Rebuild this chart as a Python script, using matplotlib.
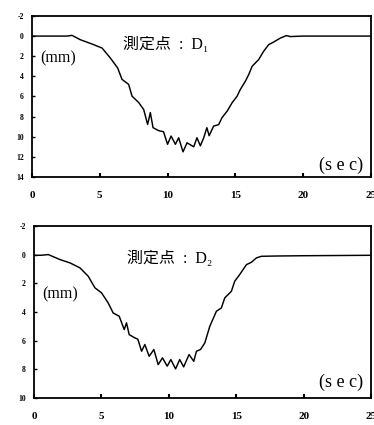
import matplotlib.pyplot as plt

# measurement point D1 (time in sec, settlement in mm, downward positive)
t1 = [0, 1, 2, 2.6, 2.95, 3.56, 4.43, 5.17, 5.78, 6.32, 6.64, 7.13, 7.38, 7.87, 8.24,
      8.53, 8.73, 8.93, 9.35, 9.7, 10.0, 10.26, 10.58, 10.82, 11.14, 11.44, 11.93,
      12.17, 12.42, 12.67, 12.9, 13.07, 13.4, 13.77, 14.02, 14.4, 14.76, 15.13, 15.37,
      15.74, 15.99, 16.24, 16.72, 17.09, 17.46, 17.83, 18.32, 18.77, 19.05, 20, 22, 25]
d1 = [0, 0, 0, 0, -0.07, 0.36, 0.79, 1.19, 2.18, 3.17, 4.3, 4.8, 5.97, 6.6, 7.3,
      8.78, 7.6, 9.1, 9.4, 9.5, 10.75, 9.93, 10.75, 10.1, 11.5, 10.6, 11.0,
      10.1, 10.9, 10.1, 9.1, 9.9, 8.94, 8.8, 8.1, 7.45, 6.63, 5.97, 5.3,
      4.49, 3.82, 3.0, 2.34, 1.51, 0.85, 0.59, 0.2, -0.05, 0.05, 0, 0, 0]

# measurement point D2
t2 = [0, 0.5, 1.06, 1.93, 2.67, 3.41, 4.02, 4.52, 5.01, 5.5, 5.87, 6.32, 6.69, 6.86,
      7.06, 7.48, 7.7, 7.98, 8.22, 8.54, 8.89, 9.21, 9.53, 9.88, 10.15, 10.5, 10.81,
      11.1, 11.5, 11.85, 12.05, 12.35, 12.67, 13.04, 13.53, 13.9, 14.15, 14.64, 14.89,
      15.26, 15.76, 16.12, 16.5, 16.87, 18, 20, 25]
d2 = [0.05, 0.05, 0, 0.35, 0.58, 0.93, 1.51, 2.32, 2.67, 3.37, 4.07, 4.3, 5.23, 4.76,
      5.58, 5.81, 5.9, 6.74, 6.27, 7.09, 6.62, 7.67, 7.2, 7.78, 7.32, 7.97, 7.32,
      7.83, 6.97, 7.44, 6.74, 6.62, 6.16, 5.0, 3.95, 3.72, 3.02, 2.56, 1.86,
      1.39, 0.7, 0.54, 0.23, 0.12, 0.1, 0.08, 0.05]

x_ticks = [0, 5, 10, 15, 20, 25]
y_ticks1 = [-2, 0, 2, 4, 6, 8, 10, 12, 14]
y_ticks2 = [-2, 0, 2, 4, 6, 8, 10]

serif = ['Liberation Serif', 'DejaVu Serif']
cjk = ['Liberation Serif', 'Noto Sans CJK JP', 'DejaVu Serif']

fig = plt.figure(figsize=(3.74, 4.25), dpi=100)
ax1 = fig.add_axes([0.0856, 0.5835, 0.906, 0.379])
ax2 = fig.add_axes([0.091, 0.0635, 0.901, 0.405])

# ax, time, depth, yticks, title, title x, title y, (sec) y, (mm) y
panels = [(ax1, t1, d1, y_ticks1, '測定点  :  D₁', 0.268, 0.82, 0.075, 0.735),
          (ax2, t2, d2, y_ticks2, '測定点  :  D₂', 0.275, 0.81, 0.093, 0.60)]

for ax, t, d, yt, title, tx, ty, sy, my in panels:
    ax.plot(t, d, color='black', lw=1.05)
    ax.set_xlim(0, 25)
    ax.set_ylim(yt[-1], yt[0])
    ax.set_xticks(x_ticks)
    ax.set_yticks(yt)
    ax.set_xticklabels([str(v) for v in x_ticks], fontfamily=serif,
                       fontweight='bold', fontsize=8)
    ax.set_yticklabels([str(v) for v in yt], fontfamily=serif,
                       fontweight='bold', fontsize=5.5)
    ax.tick_params(axis='x', direction='in', length=3, width=1.5, pad=10)
    ax.tick_params(axis='y', direction='in', length=2, width=1.0, pad=6)
    for s in ax.spines.values():
        s.set_linewidth(1.3)
    ax.text(tx, ty, title, transform=ax.transAxes, fontfamily=cjk,
            fontsize=11.5, ha='left', va='center')
    ax.text(0.977, sy, '(s e c)', transform=ax.transAxes, fontfamily=serif,
            fontsize=13, ha='right', va='center')
    ax.text(0.025, my, '(mm)', transform=ax.transAxes, fontfamily=serif,
            fontsize=11.5, ha='left', va='center')

fig.savefig('out.png', dpi=100)
